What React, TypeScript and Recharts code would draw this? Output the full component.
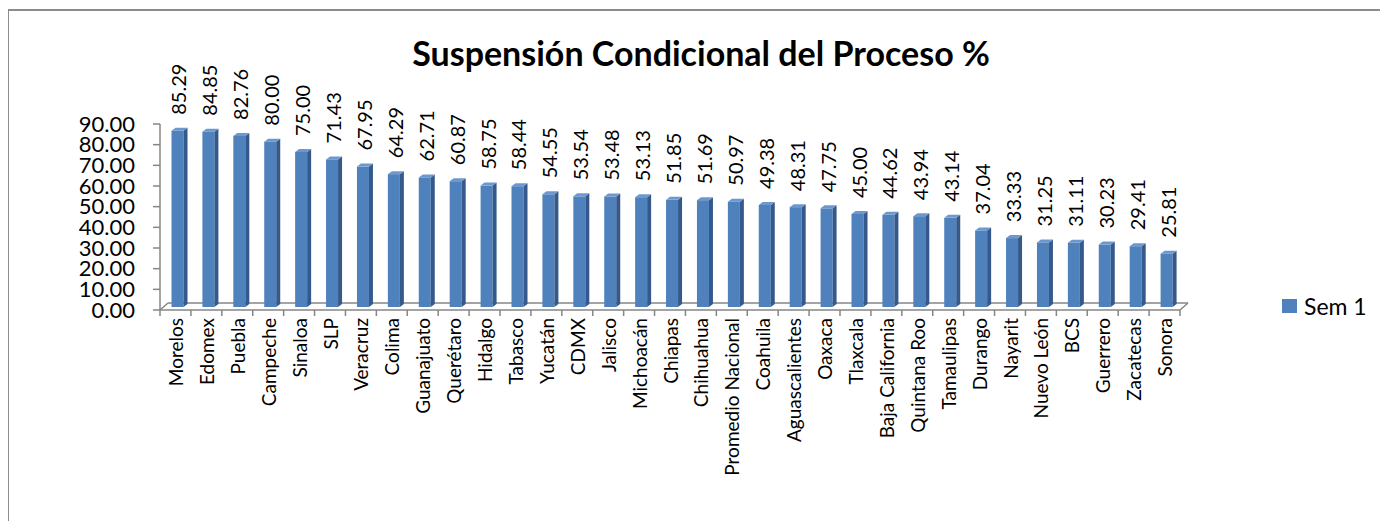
import React from 'react';
import * as RC from 'recharts';

const { BarChart, Bar, XAxis, YAxis, LabelList } = RC as any;
const Customized = (RC as any).Customized;
const usePlotAreaSafe: () => any = (RC as any).usePlotArea || (() => null);

const categories = [
  'Morelos', 'Edomex', 'Puebla', 'Campeche', 'Sinaloa', 'SLP', 'Veracruz', 'Colima',
  'Guanajuato', 'Querétaro', 'Hidalgo', 'Tabasco', 'Yucatán', 'CDMX', 'Jalisco',
  'Michoacán', 'Chiapas', 'Chihuahua', 'Promedio Nacional', 'Coahuila', 'Aguascalientes',
  'Oaxaca', 'Tlaxcala', 'Baja California', 'Quintana Roo', 'Tamaulipas', 'Durango',
  'Nayarit', 'Nuevo León', 'BCS', 'Guerrero', 'Zacatecas', 'Sonora',
];
const sem1 = [
  85.29, 84.85, 82.76, 80.0, 75.0, 71.43, 67.95, 64.29, 62.71, 60.87, 58.75, 58.44,
  54.55, 53.54, 53.48, 53.13, 51.85, 51.69, 50.97, 49.38, 48.31, 47.75, 45.0, 44.62,
  43.94, 43.14, 37.04, 33.33, 31.25, 31.11, 30.23, 29.41, 25.81,
];
const yTicks = [0, 10, 20, 30, 40, 50, 60, 70, 80, 90];
const seriesName = 'Sem 1';
const title = 'Suspensión Condicional del Proceso %';

const data = categories.map((c, i) => ({ name: c, value: sem1[i] }));

const W = 1381;
const H = 513;
const MARGIN = { top: 116, right: 208, bottom: 11, left: 83 };
const Y_W = 70;
const X_H = 200;
const FONT = 'Lato, "Open Sans", sans-serif';
const AXIS = '#868686';
const FRONT = '#4F81BD';
const SIDE = '#34598A';
const TOP = '#6C98CF';
const FLOOR_DX = 8;
const FLOOR_DY = 7;
const BAR_DX = 2.5;
const BAR_DY = 3;
const DEPTH = 4;

function Bar3D(props: any) {
  const { x, y, width, height } = props;
  if (x == null || height == null || height <= 0) return null;
  const fx = x + BAR_DX;
  const fy = y - BAR_DY;
  const w = width;
  const h = height;
  return (
    <g>
      <rect x={fx} y={fy} width={w} height={h} fill={FRONT} />
      <polygon
        points={`${fx + w},${fy} ${fx + w + DEPTH},${fy - 3} ${fx + w + DEPTH},${fy + h - 3} ${fx + w},${fy + h}`}
        fill={SIDE}
      />
      <polygon
        points={`${fx},${fy} ${fx + DEPTH},${fy - 3} ${fx + w + DEPTH},${fy - 3} ${fx + w},${fy}`}
        fill={TOP}
      />
    </g>
  );
}

function ValueLabel(props: any) {
  const { x, y, width, value } = props;
  if (x == null) return null;
  const cx = x + width / 2 + BAR_DX + 1;
  const ty = y - BAR_DY - 16;
  return (
    <text
      x={cx}
      y={ty}
      transform={`rotate(-90 ${cx} ${ty})`}
      textAnchor="start"
      dominantBaseline="central"
      fontFamily={FONT}
      fontSize={20}
      fill="#000"
    >
      {Number(value).toFixed(2)}
    </text>
  );
}

function CatTick(props: any) {
  const { x, y, payload } = props;
  return (
    <text
      x={x}
      y={y}
      transform={`rotate(-90 ${x} ${y})`}
      textAnchor="end"
      dominantBaseline="central"
      fontFamily={FONT}
      fontSize={19}
      fill="#000"
    >
      {payload.value}
    </text>
  );
}

function Floor() {
  const pa = usePlotAreaSafe();
  const left = pa ? pa.x : MARGIN.left + Y_W;
  const top = pa ? pa.y : MARGIN.top;
  const width = pa ? pa.width : W - MARGIN.left - Y_W - MARGIN.right;
  const height = pa ? pa.height : H - MARGIN.top - MARGIN.bottom - X_H;
  const bottom = top + height;
  const right = left + width;
  const n = categories.length;
  const ticks = [];
  for (let i = 0; i <= n; i++) {
    const tx = left + (i * width) / n;
    ticks.push(<line key={i} x1={tx} y1={bottom} x2={tx} y2={bottom + 6} stroke={AXIS} strokeWidth={1.5} />);
  }
  return (
    <g>
      <text
        x={694}
        y={58}
        textAnchor="middle"
        fontFamily={FONT}
        fontWeight={700}
        fontSize={34}
        fill="#000"
      >
        {title}
      </text>
      <line x1={left + FLOOR_DX} y1={bottom - FLOOR_DY} x2={right + FLOOR_DX} y2={bottom - FLOOR_DY} stroke={AXIS} strokeWidth={1.5} />
      <line x1={left} y1={bottom} x2={left + FLOOR_DX} y2={bottom - FLOOR_DY} stroke={AXIS} strokeWidth={1.5} />
      <line x1={right} y1={bottom} x2={right + FLOOR_DX} y2={bottom - FLOOR_DY} stroke={AXIS} strokeWidth={1.5} />
      {ticks}
    </g>
  );
}

export default function App() {
  const floorEl = Customized ? <Customized component={<Floor />} /> : <Floor />;
  return (
    <div
      style={{
        position: 'relative',
        width: W,
        height: H,
        marginLeft: -1,
        overflow: 'hidden',
        background: '#fff',
        fontFamily: FONT,
      }}
    >
      <div
        style={{
          position: 'absolute',
          left: 0,
          top: 1,
          width: 2000,
          height: 2000,
          borderTop: '2px solid #8C8C8C',
          borderLeft: '2px solid #8C8C8C',
          boxSizing: 'border-box',
        }}
      />
      <div style={{ position: 'absolute', left: 0, top: 0 }}>
        <BarChart width={W} height={H} data={data} margin={MARGIN} barCategoryGap={0}>
          {floorEl}
          <XAxis
            dataKey="name"
            interval={0}
            height={X_H}
            tick={<CatTick />}
            tickLine={false}
            tickSize={0}
            tickMargin={8}
            axisLine={{ stroke: AXIS, strokeWidth: 1.5 }}
          />
          <YAxis
            domain={[0, 90]}
            ticks={yTicks}
            width={Y_W}
            tickFormatter={(v: number) => v.toFixed(2)}
            tick={{ fontFamily: FONT, fontSize: 22, fill: '#000' }}
            tickSize={7}
            tickMargin={18}
            tickLine={{ stroke: AXIS, strokeWidth: 1.5 }}
            axisLine={{ stroke: AXIS, strokeWidth: 1.5 }}
            interval={0}
            allowDataOverflow
          />
          <Bar dataKey="value" name={seriesName} barSize={12} shape={<Bar3D />} isAnimationActive={false}>
            <LabelList dataKey="value" content={<ValueLabel />} />
          </Bar>
        </BarChart>
      </div>
      <div
        style={{
          position: 'absolute',
          left: 1275,
          top: 284,
          display: 'flex',
          alignItems: 'center',
          fontFamily: FONT,
          fontSize: 23,
          color: '#000',
          whiteSpace: 'nowrap',
        }}
      >
        <span style={{ display: 'inline-block', width: 15, height: 14, background: FRONT, marginRight: 7 }} />
        <span>{seriesName}</span>
      </div>
    </div>
  );
}
